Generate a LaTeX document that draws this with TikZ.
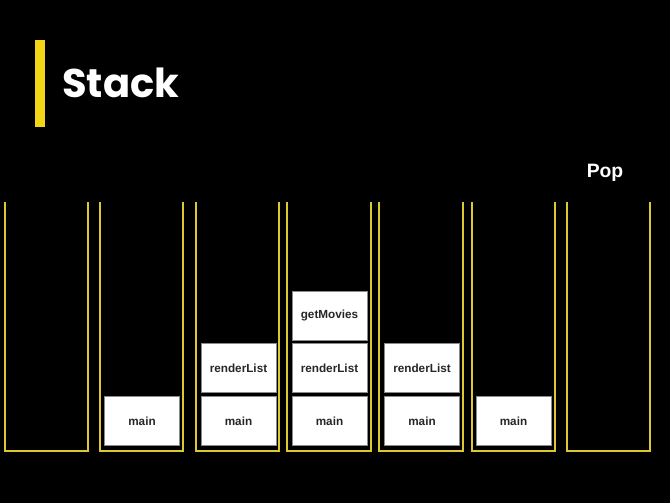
\documentclass[tikz,border=0pt]{standalone}
\usepackage{fontspec}
\setmainfont{Liberation Sans}
\newfontfamily\titlefont{Poppins}
\definecolor{bgc}{HTML}{000000}
\definecolor{baryellow}{HTML}{F2D516}
\definecolor{cupyellow}{HTML}{DCC830}
\definecolor{boxedge}{HTML}{8A8A8A}
\tikzset{
  cup/.style={draw=cupyellow, line width=2pt, line join=miter},
  frame/.style={draw=boxedge, fill=white, line width=0.6pt, minimum width=56.25pt, minimum height=36.75pt, inner sep=0pt, font=\fontsize{8.8}{10}\selectfont\bfseries, text=black!85},
}
\begin{document}
\begin{tikzpicture}[x=0.75pt, y=-0.75pt]
\useasboundingbox (0,0) rectangle (670,503);
\fill[bgc] (0,0) rectangle (670,503);
% title
\fill[baryellow] (35,40) rectangle (45,127);
\node[anchor=base west, inner sep=0pt, text=white, font=\titlefont\fontsize{30}{34}\selectfont\bfseries] (title) at (62,98) {Stack};
\node[anchor=base, inner sep=0pt, text=white, font=\fontsize{14.5}{16}\selectfont\bfseries] (pop) at (605,177) {Pop};
% cups
\foreach \l/\r in {5/88, 100/183, 196/279, 287/371, 379/463, 472/555, 567/650}{
  \draw[cup] (\l,202) -- (\l,451) -- (\r,451) -- (\r,202);
}
% frames
\node[frame] (m2) at (142,421) {main};
\node[frame] (m3) at (238.5,421) {main};
\node[frame] (r3) at (238.5,368) {renderList};
\node[frame] (m4) at (329.5,421) {main};
\node[frame] (r4) at (329.5,368) {renderList};
\node[frame] (g4) at (329.5,315.5) {getMovies};
\node[frame] (m5) at (422,421) {main};
\node[frame] (r5) at (422,368) {renderList};
\node[frame] (m6) at (513.5,421) {main};
\end{tikzpicture}
\end{document}
